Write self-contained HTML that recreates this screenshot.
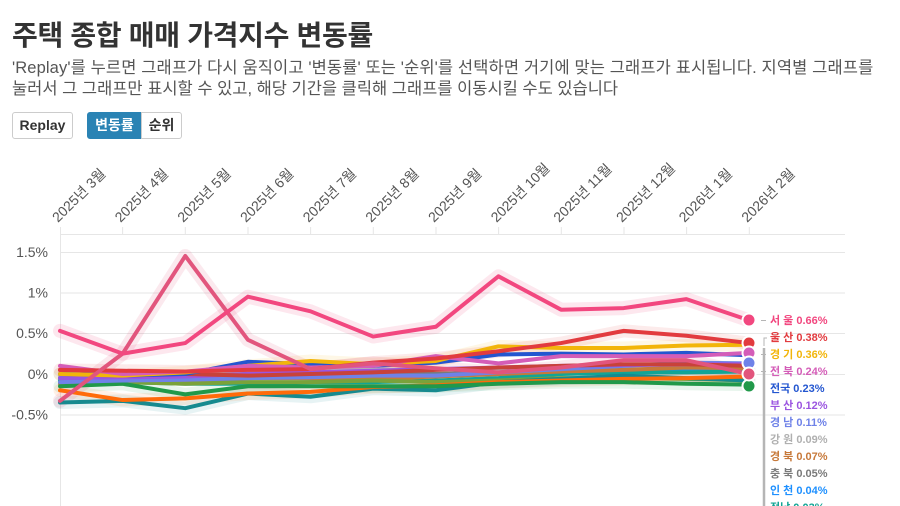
<!DOCTYPE html>
<html><head><meta charset="utf-8">
<style>
html,body{margin:0;padding:0;background:#fff;}
body{width:900px;height:506px;overflow:hidden;position:relative;font-family:"Liberation Sans","Noto Sans CJK KR",sans-serif;}
.title{position:absolute;left:12px;top:21px;font-size:28px;line-height:30px;font-weight:bold;color:#333;white-space:nowrap;letter-spacing:-0.3px;}
.sub{position:absolute;left:12px;top:58px;font-size:16.5px;line-height:20.5px;color:#555;white-space:nowrap;}
.sub .l1{letter-spacing:0.12px;}
.btn{position:absolute;top:112px;height:27px;box-sizing:border-box;border:1px solid #ccc;font-size:14px;font-weight:bold;color:#333;text-align:center;line-height:25px;background:#fff;}
svg{position:absolute;left:0;top:0;}
</style></head><body>
<div class="title">주택 종합 매매 가격지수 변동률</div>
<div class="sub"><span class="l1">'Replay'를 누르면 그래프가 다시 움직이고 '변동률' 또는 '순위'를 선택하면 거기에 맞는 그래프가 표시됩니다. 지역별 그래프를</span><br>눌러서 그 그래프만 표시할 수 있고, 해당 기간을 클릭해 그래프를 이동시킬 수도 있습니다</div>
<div class="btn" style="left:12px;width:61px;border-radius:3px;">Replay</div>
<div class="btn" style="left:87px;width:55px;border-radius:3px 0 0 3px;background:#2a83b4;border-color:#2a83b4;color:#fff;">변동률</div>
<div class="btn" style="left:141px;width:41px;border-radius:0 3px 3px 0;">순위</div>

<svg width="900" height="506" viewBox="0 0 900 506">
<g font-family="Liberation Sans, Noto Sans CJK KR, sans-serif" font-size="14" fill="#555">
<text transform="translate(58,223) rotate(-45)">2025년 3월</text>
<text transform="translate(120.6,223) rotate(-45)">2025년 4월</text>
<text transform="translate(183.3,223) rotate(-45)">2025년 5월</text>
<text transform="translate(246,223) rotate(-45)">2025년 6월</text>
<text transform="translate(308.6,223) rotate(-45)">2025년 7월</text>
<text transform="translate(371.3,223) rotate(-45)">2025년 8월</text>
<text transform="translate(434,223) rotate(-45)">2025년 9월</text>
<text transform="translate(496.6,223) rotate(-45)">2025년 10월</text>
<text transform="translate(559.3,223) rotate(-45)">2025년 11월</text>
<text transform="translate(622,223) rotate(-45)">2025년 12월</text>
<text transform="translate(684.6,223) rotate(-45)">2026년 1월</text>
<text transform="translate(747.3,223) rotate(-45)">2026년 2월</text>
</g>
<g stroke="#e6e6e6" stroke-width="1">
<line x1="60" y1="234.5" x2="845" y2="234.5"/>
<line x1="60" y1="252.5" x2="845" y2="252.5"/>
<line x1="60" y1="293" x2="845" y2="293"/>
<line x1="60" y1="333.5" x2="845" y2="333.5"/>
<line x1="60" y1="374.5" x2="845" y2="374.5"/>
<line x1="60" y1="415" x2="845" y2="415"/>
<line x1="60.5" y1="227" x2="60.5" y2="506"/>
<line x1="122.6" y1="227" x2="122.6" y2="234"/>
<line x1="185.3" y1="227" x2="185.3" y2="234"/>
<line x1="248" y1="227" x2="248" y2="234"/>
<line x1="310.6" y1="227" x2="310.6" y2="234"/>
<line x1="373.3" y1="227" x2="373.3" y2="234"/>
<line x1="436" y1="227" x2="436" y2="234"/>
<line x1="498.6" y1="227" x2="498.6" y2="234"/>
<line x1="561.3" y1="227" x2="561.3" y2="234"/>
<line x1="624" y1="227" x2="624" y2="234"/>
<line x1="686.6" y1="227" x2="686.6" y2="234"/>
<line x1="749.3" y1="227" x2="749.3" y2="234"/>
</g>
<g font-family="Liberation Sans, sans-serif" font-size="14" fill="#555" text-anchor="end">
<text x="48" y="257">1.5%</text>
<text x="48" y="297.5">1%</text>
<text x="48" y="338">0.5%</text>
<text x="48" y="379">0%</text>
<text x="48" y="419.5">-0.5%</text>
</g>

<g transform="translate(60,374) scale(62.636,-81.4)" fill="none" stroke-linejoin="round" stroke-linecap="round">
<g stroke-width="13" stroke-opacity="0.1">
<polyline vector-effect="non-scaling-stroke" stroke="#7a7a7a" points="0,0 1,-0.02 2,-0.03 3,0.02 4,0.02 5,0 6,0 7,0.02 8,0.03 9,0.04 10,0.05 11,0.05"/>
<polyline vector-effect="non-scaling-stroke" stroke="#168a8f" points="0,-0.35 1,-0.33 2,-0.42 3,-0.24 4,-0.28 5,-0.18 6,-0.2 7,-0.1 8,-0.06 9,-0.02 10,-0.05 11,-0.08"/>
<polyline vector-effect="non-scaling-stroke" stroke="#ff6b0a" points="0,-0.2 1,-0.32 2,-0.3 3,-0.24 4,-0.22 5,-0.16 6,-0.14 7,-0.1 8,-0.08 9,-0.06 10,-0.05 11,-0.03"/>
<polyline vector-effect="non-scaling-stroke" stroke="#21994a" points="0,-0.15 1,-0.12 2,-0.25 3,-0.15 4,-0.15 5,-0.15 6,-0.15 7,-0.12 8,-0.1 9,-0.1 10,-0.12 11,-0.13"/>
<polyline vector-effect="non-scaling-stroke" stroke="#f2b50a" points="0,0 1,-0.02 2,0.02 3,0.1 4,0.16 5,0.12 6,0.16 7,0.34 8,0.32 9,0.32 10,0.35 11,0.36"/>
<polyline vector-effect="non-scaling-stroke" stroke="#e23b3f" points="0,0.05 1,0.04 2,0.03 3,0.05 4,0.06 5,0.14 6,0.19 7,0.28 8,0.38 9,0.53 10,0.47 11,0.38"/>
</g>
<g stroke-width="14" stroke-opacity="0.13">
<polyline vector-effect="non-scaling-stroke" stroke="#e2557d" points="0,-0.33 1,0.25 2,1.45 3,0.42 4,0.06 5,0.13 6,0.07 7,0.02 8,0.08 9,0.17 10,0.17 11,0"/>
<polyline vector-effect="non-scaling-stroke" stroke="#f2477f" points="0,0.53 1,0.25 2,0.38 3,0.95 4,0.77 5,0.46 6,0.58 7,1.2 8,0.79 9,0.81 10,0.92 11,0.66"/>
</g>
<g stroke-width="4">
<polyline vector-effect="non-scaling-stroke" stroke="#7a7a7a" points="0,0 1,-0.02 2,-0.03 3,0.02 4,0.02 5,0 6,0 7,0.02 8,0.03 9,0.04 10,0.05 11,0.05"/>
<polyline vector-effect="non-scaling-stroke" stroke="#b5b5b5" points="0,-0.02 1,-0.03 2,0 3,0.05 4,0.05 5,0.05 6,0.06 7,0.07 8,0.08 9,0.09 10,0.09 11,0.09"/>
<polyline vector-effect="non-scaling-stroke" stroke="#1e90ff" points="0,-0.05 1,-0.05 2,-0.06 3,-0.05 4,-0.04 5,-0.03 6,-0.02 7,0 8,0.02 9,0.03 10,0.03 11,0.04"/>
<polyline vector-effect="non-scaling-stroke" stroke="#12a595" points="0,-0.08 1,-0.1 2,-0.12 3,-0.12 4,-0.1 5,-0.1 6,-0.08 7,-0.05 8,0 9,0.02 10,0.02 11,0.03"/>
<polyline vector-effect="non-scaling-stroke" stroke="#c7793a" points="0,-0.12 1,-0.08 2,-0.1 3,-0.05 4,-0.05 5,-0.06 6,-0.03 7,0 8,0.03 9,0.05 10,0.08 11,0.07"/>
<polyline vector-effect="non-scaling-stroke" stroke="#7aa23a" points="0,-0.1 1,-0.1 2,-0.12 3,-0.1 4,-0.1 5,-0.08 6,-0.1 7,-0.08 8,-0.05 9,-0.05 10,-0.06 11,-0.08"/>
<polyline vector-effect="non-scaling-stroke" stroke="#168a8f" points="0,-0.35 1,-0.33 2,-0.42 3,-0.24 4,-0.28 5,-0.18 6,-0.2 7,-0.1 8,-0.06 9,-0.02 10,-0.05 11,-0.08"/>
<polyline vector-effect="non-scaling-stroke" stroke="#ff6b0a" points="0,-0.2 1,-0.32 2,-0.3 3,-0.24 4,-0.22 5,-0.16 6,-0.14 7,-0.1 8,-0.08 9,-0.06 10,-0.05 11,-0.03"/>
<polyline vector-effect="non-scaling-stroke" stroke="#21994a" points="0,-0.15 1,-0.12 2,-0.25 3,-0.15 4,-0.15 5,-0.15 6,-0.15 7,-0.12 8,-0.1 9,-0.1 10,-0.12 11,-0.13"/>
<polyline vector-effect="non-scaling-stroke" stroke="#6f82e8" points="0,-0.1 1,-0.08 2,-0.07 3,-0.05 4,-0.04 5,-0.02 6,-0.02 7,0.02 8,0.06 9,0.1 10,0.14 11,0.13"/>
<polyline vector-effect="non-scaling-stroke" stroke="#9b55e0" points="0,-0.05 1,-0.04 2,-0.03 3,0 4,0.02 5,0.04 6,0.06 7,0.08 8,0.1 9,0.11 10,0.12 11,0.12"/>
<polyline vector-effect="non-scaling-stroke" stroke="#c8423a" points="0,0.05 1,0.03 2,0 3,-0.02 4,0 5,0.02 6,0.05 7,0.08 8,0.1 9,0.12 10,0.12 11,0.1"/>
<polyline vector-effect="non-scaling-stroke" stroke="#2356d0" points="0,0 1,-0.02 2,0 3,0.15 4,0.12 5,0.1 6,0.14 7,0.24 8,0.25 9,0.24 10,0.26 11,0.23"/>
<polyline vector-effect="non-scaling-stroke" stroke="#f2b50a" points="0,0 1,-0.02 2,0.02 3,0.1 4,0.16 5,0.12 6,0.16 7,0.34 8,0.32 9,0.32 10,0.35 11,0.36"/>
<polyline vector-effect="non-scaling-stroke" stroke="#d45db8" points="0,0.1 1,0 2,0.03 3,0.1 4,0.08 5,0.1 6,0.22 7,0.13 8,0.22 9,0.22 10,0.22 11,0.26"/>
<polyline vector-effect="non-scaling-stroke" stroke="#e23b3f" points="0,0.05 1,0.04 2,0.03 3,0.05 4,0.06 5,0.14 6,0.19 7,0.28 8,0.38 9,0.53 10,0.47 11,0.38"/>
<polyline vector-effect="non-scaling-stroke" stroke="#e2557d" points="0,-0.33 1,0.25 2,1.45 3,0.42 4,0.06 5,0.13 6,0.07 7,0.02 8,0.08 9,0.17 10,0.17 11,0"/>
<polyline vector-effect="non-scaling-stroke" stroke="#f2477f" points="0,0.53 1,0.25 2,0.38 3,0.95 4,0.77 5,0.46 6,0.58 7,1.2 8,0.79 9,0.81 10,0.92 11,0.66"/>
</g>
</g>

<g stroke="#fff" stroke-width="2">
<circle cx="749" cy="386" r="6.5" fill="#21994a"/>
<circle cx="749" cy="343" r="6.5" fill="#e23b3f"/>
<circle cx="749" cy="353" r="6.5" fill="#d45db8"/>
<circle cx="749" cy="363" r="6.5" fill="#6f82e8"/>
<circle cx="749" cy="374" r="6.5" fill="#e2557d"/>
<circle cx="749" cy="320" r="6.5" fill="#f2477f"/>
</g>

<g stroke="#b5b5b5">
<line x1="761" y1="320.5" x2="766" y2="320.5" stroke-width="1"/>
<polyline points="767,338 764,338 764,346" fill="none" stroke-width="1"/>
<line x1="761" y1="354.5" x2="766" y2="354.5" stroke-width="1"/>
<line x1="761" y1="371.5" x2="766" y2="371.5" stroke-width="1"/>
<line x1="764" y1="348" x2="764" y2="506" stroke-width="2.5"/>
</g>
<g font-family="Liberation Sans, Noto Sans CJK KR, sans-serif" font-size="11" font-weight="bold">
<text x="770" y="324" fill="#f2477f">서 울 0.66%</text>
<text x="770" y="341" fill="#e23b3f">울 산 0.38%</text>
<text x="770" y="358" fill="#f2b50a">경 기 0.36%</text>
<text x="770" y="375" fill="#d45db8">전 북 0.24%</text>
<text x="770" y="392" fill="#2356d0">전국 0.23%</text>
<text x="770" y="409" fill="#9b55e0">부 산 0.12%</text>
<text x="770" y="426" fill="#6f82e8">경 남 0.11%</text>
<text x="770" y="443" fill="#b0b0b0">강 원 0.09%</text>
<text x="770" y="460" fill="#c7793a">경 북 0.07%</text>
<text x="770" y="477" fill="#7a7a7a">충 북 0.05%</text>
<text x="770" y="494" fill="#1e90ff">인 천 0.04%</text>
<text x="770" y="511" fill="#12a595">전남 0.03%</text>
</g>
</svg>
</body></html>
